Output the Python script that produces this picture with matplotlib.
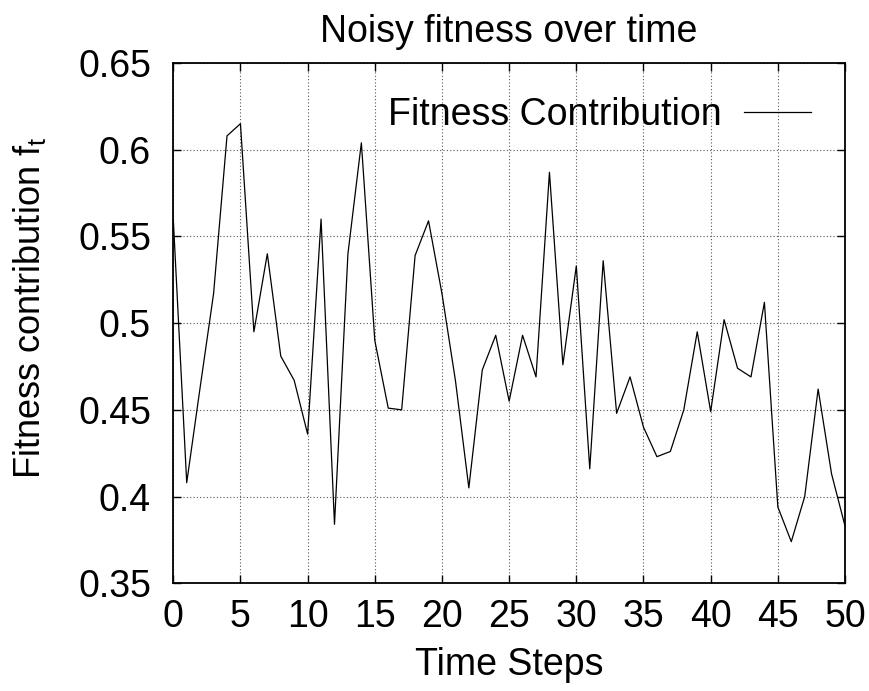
import numpy as np
import matplotlib
matplotlib.use("Agg")
import matplotlib.pyplot as plt

# values, one per time step
steps = list(range(51))
fitness = [0.560, 0.408, 0.463, 0.517, 0.608, 0.615, 0.495, 0.540, 0.481, 0.467,
           0.436, 0.560, 0.384, 0.540, 0.604, 0.490, 0.451, 0.450, 0.539, 0.559,
           0.517, 0.467, 0.405, 0.473, 0.493, 0.455, 0.493, 0.469, 0.587, 0.476,
           0.533, 0.416, 0.536, 0.448, 0.469, 0.440, 0.423, 0.426, 0.450, 0.495,
           0.449, 0.502, 0.474, 0.469, 0.512, 0.394, 0.374, 0.400, 0.462, 0.413,
           0.383]
xticks = list(range(0, 51, 5))
yticks = [0.35, 0.4, 0.45, 0.5, 0.55, 0.6, 0.65]
ytick_labels = ["0.35", "0.4", "0.45", "0.5", "0.55", "0.6", "0.65"]

plt.rcParams['font.family'] = ['Liberation Sans', 'DejaVu Sans']
plt.rcParams['mathtext.fontset'] = 'custom'
plt.rcParams['mathtext.rm'] = 'Liberation Sans'
plt.rcParams['mathtext.it'] = 'Liberation Sans'
fs = 27

fig = plt.figure(figsize=(8.69, 6.91), dpi=100)
ax = fig.add_axes([0.1994, 0.1559, 0.7730, 0.7529])

ax.plot(steps, fitness, color='black', lw=0.9, label='Fitness Contribution')

ax.set_xlim(0, 50)
ax.set_ylim(0.35, 0.65)
ax.set_xticks(xticks)
ax.set_yticks(yticks)
ax.set_yticklabels(ytick_labels)
ax.tick_params(direction='in', top=True, right=True, length=6, width=1,
               labelsize=fs)
ax.tick_params(axis='y', pad=16)
ax.tick_params(axis='x', pad=11)
ax.grid(True, color='#555555', linestyle=(0, (1, 2)), lw=0.8)
for s in ax.spines.values():
    s.set_linewidth(1.3)

ax.set_title('Noisy fitness over time', fontsize=fs, pad=15)
ax.set_xlabel('Time Steps', fontsize=fs, labelpad=9)
ax.set_ylabel(r'Fitness contribution f$_\mathrm{t}$', fontsize=26)
ax.yaxis.set_label_coords(-0.186, 0.53)

ax.legend(loc='upper right', frameon=False, markerfirst=False, fontsize=fs,
          handlelength=1.8, borderaxespad=0.5, handletextpad=0.6)

fig.savefig('out.png', dpi=100)
